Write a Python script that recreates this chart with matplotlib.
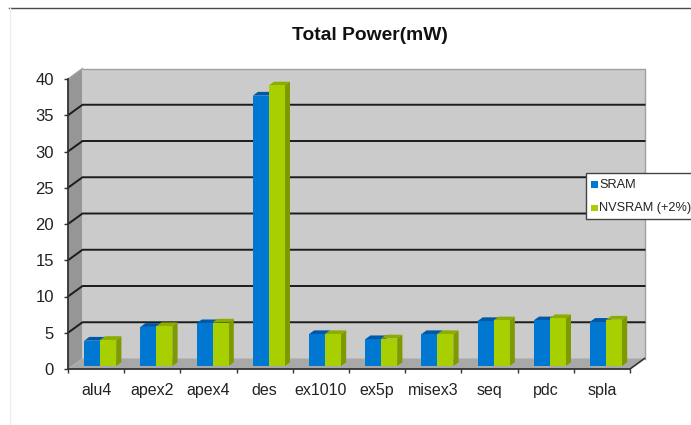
import matplotlib
matplotlib.use('Agg')
import matplotlib.pyplot as plt
from matplotlib.patches import Polygon, Rectangle
from matplotlib.lines import Line2D

categories = ['alu4', 'apex2', 'apex4', 'des', 'ex1010', 'ex5p', 'misex3', 'seq', 'pdc', 'spla']
sram = [3.5, 5.4, 5.9, 37.3, 4.4, 3.7, 4.4, 6.2, 6.3, 6.1]
nvsram = [3.6, 5.5, 6.0, 38.7, 4.4, 3.8, 4.4, 6.3, 6.6, 6.4]
y_ticks = [0, 5, 10, 15, 20, 25, 30, 35, 40]

W, H = 691, 425
LEFT, RIGHT, BOTTOM, TOP = 68, 630, 369, 79
N = len(categories)
# 3D look: size of the box depth, in pixels, then in data units
DEPTH_PX = (14.5, 10.5)
dx = DEPTH_PX[0] * N / (RIGHT - LEFT)
dy = DEPTH_PX[1] * 40 / (BOTTOM - TOP)


def shade(ax, pts, color, z):
    ax.add_patch(Polygon(pts, closed=True, facecolor=color, edgecolor='none', zorder=z, clip_on=False))


def bar3d(ax, x0, w, val, front, top, side, z):
    # bars stand in the middle of the box depth
    ox, oy = dx * 0.28, dy * 0.28
    bx, by = dx * 0.36, dy * 0.36
    ax.bar(x0 + ox, val, width=w, bottom=oy, align='edge', color=front, linewidth=0, zorder=z + 0.2, clip_on=False)
    shade(ax, [(x0 + ox, oy + val), (x0 + ox + w, oy + val), (x0 + ox + w + bx, oy + val + by), (x0 + ox + bx, oy + val + by)], top, z)
    shade(ax, [(x0 + ox + w, oy), (x0 + ox + w + bx, oy + by), (x0 + ox + w + bx, oy + val + by), (x0 + ox + w, oy + val)], side, z)


def main():
    plt.rcParams['font.family'] = ['Liberation Sans', 'DejaVu Sans']
    fig = plt.figure(figsize=(W / 100, H / 100), dpi=100, facecolor='white')

    # page frame behind the chart
    fig.add_artist(Line2D([9 / W, 1], [1 - 7.5 / H, 1 - 7.5 / H], color='#4a4a4a', lw=1))
    fig.add_artist(Line2D([9.5 / W, 9.5 / W], [0, 1 - 7.5 / H], color='#ececec', lw=1))

    ax = fig.add_axes([LEFT / W, 1 - BOTTOM / H, (RIGHT - LEFT) / W, (BOTTOM - TOP) / H])
    ax.set_xlim(0, N)
    ax.set_ylim(0, 40)
    ax.patch.set_visible(False)

    # back wall, side wall, floor
    shade(ax, [(dx, dy), (N + dx, dy), (N + dx, 40 + dy), (dx, 40 + dy)], '#cbcbcb', 1)
    shade(ax, [(0, 0), (dx, dy), (dx, 40 + dy), (0, 40)], '#969696', 1)
    shade(ax, [(0, 0), (N, 0), (N + dx, dy), (dx, dy)], '#a8a8a8', 1)
    ax.plot([dx, N + dx, N + dx], [40 + dy, 40 + dy, dy], color='#a0a0a0', lw=1, zorder=1.5, clip_on=False)
    ax.plot([0, dx], [40, 40 + dy], color='#a0a0a0', lw=1, zorder=1.5, clip_on=False)

    # gridlines run across the wall and along the side
    for t in y_ticks[1:-1]:
        ax.plot([0, dx, N + dx], [t, t + dy, t + dy], color='#1c1c1c', lw=1.4, zorder=2, clip_on=False)

    w = 0.285
    for i in range(N):
        x0 = i + 0.5 - w
        bar3d(ax, x0, w, sram[i], '#0077d0', '#0059a8', '#005ba8', 3 + i)
        bar3d(ax, x0 + w, w, nvsram[i], '#a8d000', '#8cad00', '#7d9a00', 3 + i + 0.5)

    ax.plot([N, N + dx], [0, dy], color='#333333', lw=1.2, zorder=2.5, clip_on=False)

    for s in ['top', 'right']:
        ax.spines[s].set_visible(False)
    for s in ['left', 'bottom']:
        ax.spines[s].set_color('#333333')
        ax.spines[s].set_linewidth(1.3)
        ax.spines[s].set_zorder(20)

    ax.set_yticks(y_ticks)
    ax.set_xticks(range(N + 1))
    ax.set_xticklabels([])
    ax.set_xticks([i + 0.5 for i in range(N)], minor=True)
    ax.set_xticklabels(categories, minor=True)
    ax.tick_params(axis='x', which='major', length=3, width=1, color='#333333', direction='out')
    ax.tick_params(axis='x', which='minor', length=0, pad=10, labelsize=11.5, labelcolor='#222222')
    ax.tick_params(axis='y', length=3, width=1, color='#333333', pad=7, labelsize=12, labelcolor='#222222')

    fig.text(370 / W, 1 - 36 / H, 'Total Power(mW)', ha='center', va='center', fontsize=13.9, fontweight='bold', color='#111111')

    # legend box hangs over the right side of the wall
    fig.add_artist(Rectangle((586 / W, 1 - 219 / H), 110 / W, 46 / H, transform=fig.transFigure,
                             facecolor='white', edgecolor='#444444', lw=1, zorder=30))
    for label, color, py in [('SRAM', '#0077d0', 184.5), ('NVSRAM (+2%)', '#a8d000', 208)]:
        fig.add_artist(Rectangle((591 / W, 1 - (py + 3) / H), 6.5 / W, 6.5 / H, transform=fig.transFigure,
                                 facecolor=color, edgecolor='none', zorder=31))
        fig.text(599 / W, 1 - py / H, label, ha='left', va='center', fontsize=9.2, color='#222222', zorder=31)

    fig.savefig('out.png', dpi=100)


if __name__ == '__main__':
    main()
